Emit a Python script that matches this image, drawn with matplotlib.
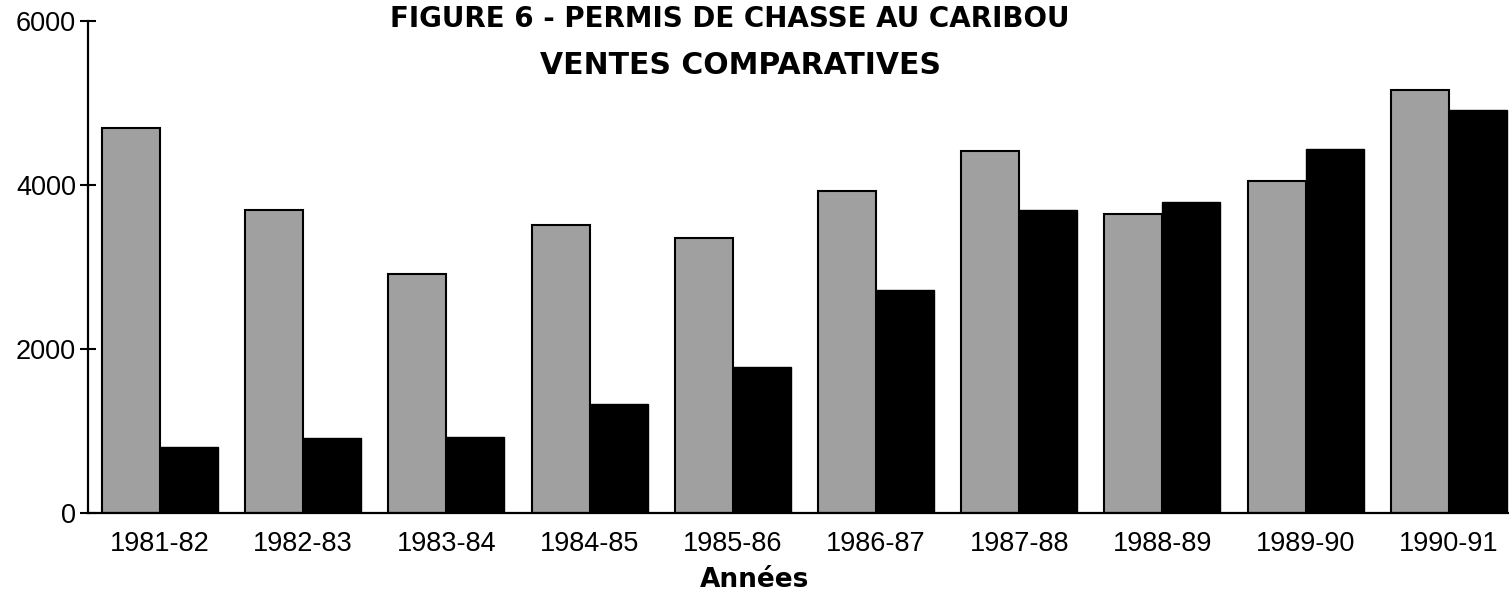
import numpy as np
import matplotlib.pyplot as plt

plt.rcParams["font.family"] = ["Liberation Sans", "DejaVu Sans"]

SEASONS = ["1981-82", "1982-83", "1983-84", "1984-85", "1985-86",
           "1986-87", "1987-88", "1988-89", "1989-90", "1990-91"]
# gray bars (first series) and black bars (second series)
SERIES_GRAY = [4700, 3700, 2910, 3510, 3350, 3930, 4420, 3650, 4050, 5160]
SERIES_BLACK = [810, 920, 925, 1330, 1780, 2720, 3700, 3790, 4440, 4910]

Y_TICKS = [0, 2000, 4000, 6000]


def main():
    fig = plt.figure(figsize=(15.09, 5.96), dpi=100)
    W, H = 1509, 596
    ax = fig.add_axes([88 / W, 1 - 513 / H, (1509 - 88) / W, (513 - 21) / H])

    x = np.arange(len(SEASONS))
    w = 0.405
    ax.bar(x - w, SERIES_GRAY, width=w, align="edge",
           color="#a0a0a0", edgecolor="black", linewidth=1.5)
    ax.bar(x, SERIES_BLACK, width=w, align="edge",
           color="black", edgecolor="black", linewidth=1.0)

    ax.set_xlim(-0.503, 9.42)
    ax.set_ylim(0, 6000)

    for side in ("top", "right"):
        ax.spines[side].set_visible(False)
    ax.spines["left"].set_linewidth(1.6)
    ax.spines["bottom"].set_linewidth(1.6)

    ax.set_yticks(Y_TICKS)
    ax.set_yticklabels([str(v) for v in Y_TICKS], fontsize=19.5)
    ax.tick_params(axis="y", direction="inout", length=11, width=1.5, pad=3)

    ax.set_xticks(x)
    ax.set_xticklabels(SEASONS, fontsize=19.5)
    ax.tick_params(axis="x", length=0, pad=13)

    fig.text(755 / W, 1 - 580 / H, "Années", ha="center", va="center",
             fontsize=19, fontweight="bold", family="DejaVu Sans")

    fig.text(730 / W, 1 - 19 / H, "FIGURE 6 - PERMIS DE CHASSE AU CARIBOU",
             ha="center", va="center", fontsize=20, fontweight="bold",
             family="DejaVu Sans")
    fig.text(740 / W, 1 - 65 / H, "VENTES COMPARATIVES",
             ha="center", va="center", fontsize=21.5, fontweight="bold",
             family="DejaVu Sans")

    fig.savefig("out.png", dpi=100)
    plt.close(fig)


if __name__ == "__main__":
    main()
